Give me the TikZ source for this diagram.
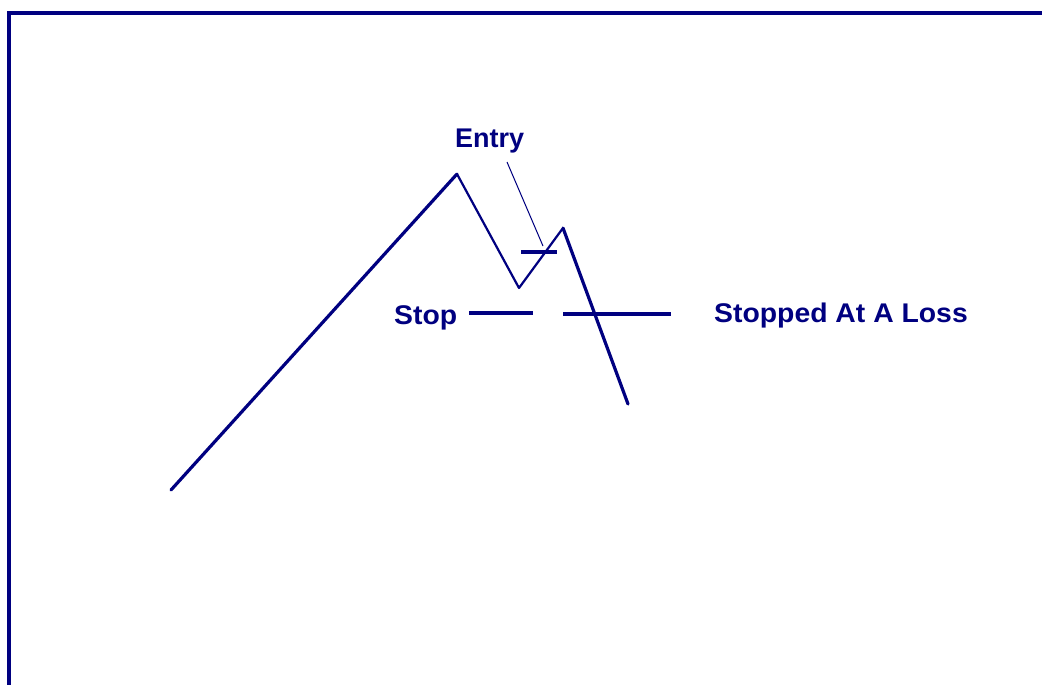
\documentclass[tikz,border=0pt]{standalone}
\usepackage{fontspec}
\setmainfont{Liberation Sans}
\newfontfamily\widesans[FakeStretch=1.05]{Liberation Sans}
\begin{document}
\begin{tikzpicture}[x=1pt,y=-1pt,
  ink/.style={draw={rgb,255:red,0;green,0;blue,128}},
  frame/.style={ink,line width=3.2pt},
  heavy/.style={ink,line width=3.2pt,line cap=round,line join=round},
  light/.style={ink,line width=2.2pt,line cap=round,line join=round},
  leader/.style={ink,line width=1pt},
  lbl/.style={text={rgb,255:red,0;green,0;blue,128},font=\fontsize{27}{30}\selectfont\bfseries,inner sep=0pt}]
\useasboundingbox (0,0) rectangle (1042,685);
\fill[white] (0,0) rectangle (1042,685);
% frame
\draw[frame] (9,686) -- (9,13) -- (1043,13);
% price path
\coordinate (start) at (171,490);
\coordinate (peak) at (457,174);
\coordinate (valley) at (519,288);
\coordinate (peak2) at (563,228);
\coordinate (low) at (628,404);
\draw[heavy] (start) -- (peak);
\draw[light] (peak) -- (valley) -- (peak2);
\draw[heavy] (peak2) -- (low);
% entry bar and leader
\coordinate (entryL) at (521,252);
\coordinate (entryR) at (557,252);
\draw[heavy,line cap=butt] (entryL) -- (entryR);
\node[lbl,anchor=base west] (entry) at (455,147) {Entry};
\coordinate (leadA) at (507,162);
\coordinate (leadB) at (543,246);
\draw[leader] (leadA) -- (leadB);
% stop lines
\coordinate (stopL) at (469,313);
\coordinate (stopR) at (533,313);
\draw[heavy,line cap=butt] (stopL) -- (stopR);
\coordinate (lossL) at (563,314);
\coordinate (lossR) at (671,314);
\draw[heavy,line cap=butt] (lossL) -- (lossR);
\node[lbl,anchor=base west] (stop) at (394,324) {\widesans\bfseries Stop};
\node[lbl,anchor=base west] (loss) at (714,322) {\widesans\bfseries Stopped At A Loss};
\end{tikzpicture}
\end{document}
